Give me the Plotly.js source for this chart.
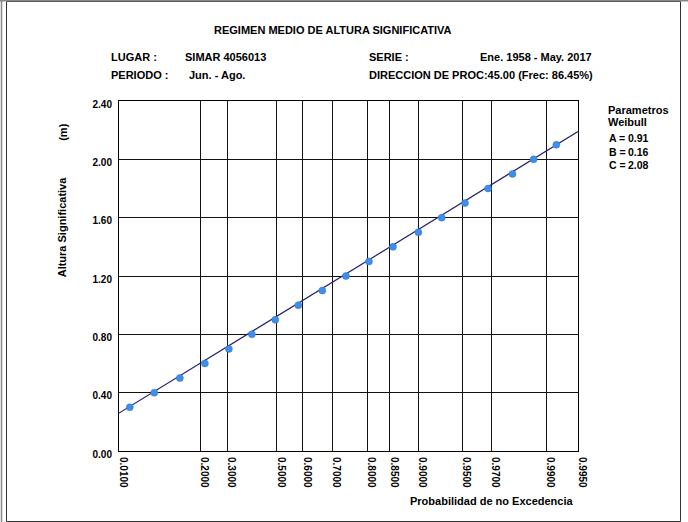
<!DOCTYPE html>
<html>
<head>
<meta charset="utf-8">
<script src="https://cdn.plot.ly/plotly-3.0.1.min.js"></script>
<style>
  html, body { margin: 0; padding: 0; background: #ffffff; }
  #chart { width: 688px; height: 522px; }
</style>
</head>
<body>
<div id="chart"></div>
<script>
// ---------------- data ----------------
const heightValues = [0.30, 0.40, 0.50, 0.60, 0.70, 0.80, 0.90, 1.00, 1.10, 1.20,
                      1.30, 1.40, 1.50, 1.60, 1.70, 1.80, 1.90, 2.00, 2.10];
const nonExceedProb = [0.0217, 0.0646, 0.1319, 0.2154, 0.3067, 0.3993, 0.4938, 0.5830, 0.6683, 0.7423,
                       0.8036, 0.8561, 0.8996, 0.9299, 0.9523, 0.9683, 0.9800, 0.9869, 0.9919];
const fitProb = [0.01, 0.995];
const fitHeight = [0.26, 2.19];
const probTicks = [0.01, 0.2, 0.3, 0.5, 0.6, 0.7, 0.8, 0.85, 0.9, 0.95, 0.97, 0.99, 0.995];
const probTickLabels = ['0.0100', '0.2000', '0.3000', '0.5000', '0.6000', '0.7000', '0.8000',
                        '0.8500', '0.9000', '0.9500', '0.9700', '0.9900', '0.9950'];
const heightTicks = [0.00, 0.40, 0.80, 1.20, 1.60, 2.00, 2.40];
const paramNames = ['A', 'B', 'C'];
const paramValues = ['0.91', '0.16', '2.08'];

// ---------------- Weibull probability scale ----------------
const shapeC = parseFloat(paramValues[2]);
function wscale(p) { return Math.pow(-Math.log(1 - p), 1 / shapeC); }

// ---------------- layout geometry ----------------
const W = 688, H = 522;
const M = { l: 119, r: 110, t: 101, b: 71 };
const PW = W - M.l - M.r, PH = H - M.t - M.b;
const px = x => (x - M.l) / PW;
const py = y => (M.t + PH - y) / PH;

const FONT = 'Arial, "Liberation Sans", sans-serif';
const bold = (size) => ({ family: FONT, size: size, color: '#000', weight: 'bold' });

function ann(text, x, y, opts) {
  return Object.assign({
    text: text, xref: 'paper', yref: 'paper', x: px(x), y: py(y),
    xanchor: 'left', yanchor: 'middle', showarrow: false, font: bold(11), borderpad: 0
  }, opts || {});
}

const annotations = [
  ann('REGIMEN MEDIO DE ALTURA SIGNIFICATIVA', 332.7, 29.5, { xanchor: 'center' }),
  ann('LUGAR :', 110, 56.7),
  ann('PERIODO :', 110, 75),
  ann('SIMAR 4056013', 184.3, 56.7),
  ann('Jun. - Ago.', 188.3, 75),
  ann('SERIE :', 367.7, 56.7),
  ann('Ene. 1958 - May. 2017', 593, 56.7, { xanchor: 'right' }),
  ann('DIRECCION DE PROC:45.00 (Frec: 86.45%)', 367.7, 75),
  ann('Parametros', 606.7, 110),
  ann('Weibull', 606.7, 122.5),
  ann('Altura Significativa', 62.3, 227, { xanchor: 'center', textangle: -90 }),
  ann('(m)', 62.3, 132.5, { xanchor: 'center', textangle: -90 }),
  ann('Probabilidad de no Excedencia', 574, 500.7, { xanchor: 'right' })
];
paramNames.forEach((n, i) => {
  annotations.push(ann(n + ' =', 607.5, 138.3 + i * 13.4, { font: bold(10.5) }));
  annotations.push(ann(paramValues[i], 626.5, 138.3 + i * 13.4, { font: bold(10.5) }));
});

const shapes = [
  { type: 'rect', xref: 'paper', yref: 'paper', x0: px(6.5), x1: px(680.5), y0: py(1.5), y1: py(521.5),
    line: { color: '#333', width: 1 }, layer: 'above' },
  { type: 'line', xref: 'paper', yref: 'paper', x0: px(1.5), x1: px(1.5), y0: py(0), y1: py(522),
    line: { color: '#888', width: 1.5 }, layer: 'above' },
  { type: 'line', xref: 'paper', yref: 'paper', x0: px(0), x1: px(688), y0: py(0.8), y1: py(0.8),
    line: { color: '#888', width: 1.5 }, layer: 'above' }
];

const traces = [
  {
    x: fitProb.map(wscale), y: fitHeight, type: 'scatter', mode: 'lines',
    line: { color: '#1f1f78', width: 1.2 }, hoverinfo: 'skip'
  },
  {
    x: nonExceedProb.map(wscale), y: heightValues, type: 'scatter', mode: 'markers',
    marker: { color: '#3f8fea', size: 7, line: { width: 0.5, color: '#2a74cc' } }
  }
];

const layout = {
  width: W, height: H, margin: M, showlegend: false,
  paper_bgcolor: '#fff', plot_bgcolor: '#fff',
  font: { family: FONT, size: 11, color: '#000' },
  xaxis: {
    range: [wscale(probTicks[0]), wscale(probTicks[probTicks.length - 1])],
    tickvals: probTicks.map(wscale), ticktext: probTickLabels,
    tickangle: 90, tickfont: bold(10), ticks: '', ticklabelshift: 4, ticklabelstandoff: 3,
    showgrid: true, gridcolor: '#111', gridwidth: 1,
    showline: true, mirror: true, linecolor: '#000', linewidth: 1, zeroline: false,
    fixedrange: true
  },
  yaxis: {
    range: [0, 2.4], tickvals: heightTicks, tickformat: '.2f',
    tickfont: bold(10), ticks: '', ticklabelshift: 3, ticklabelstandoff: 4,
    showgrid: true, gridcolor: '#111', gridwidth: 1,
    showline: true, mirror: true, linecolor: '#000', linewidth: 1, zeroline: false,
    fixedrange: true
  },
  annotations: annotations,
  shapes: shapes
};

Plotly.newPlot('chart', traces, layout, { displayModeBar: false, staticPlot: true });
</script>
</body>
</html>
